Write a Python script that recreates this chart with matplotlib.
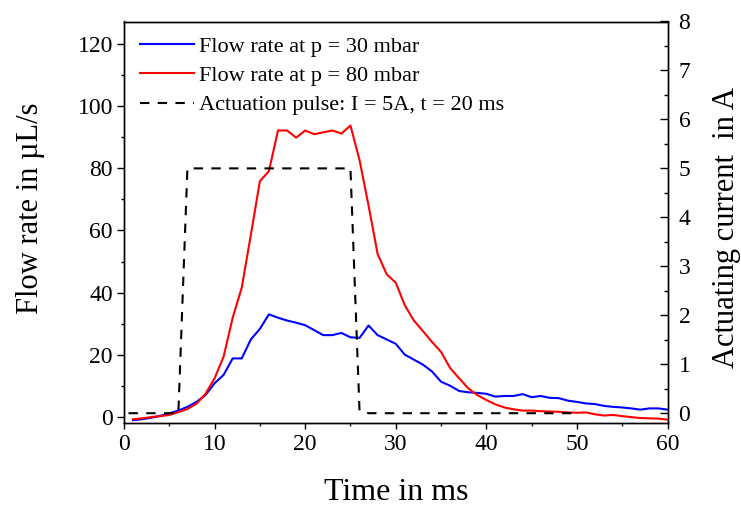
import numpy as np
import matplotlib
matplotlib.use("Agg")
import matplotlib.pyplot as plt
from matplotlib.ticker import MultipleLocator

# --- data ---
time_ms = np.arange(1, 61)

flow_30mbar = [-1.1, -0.8, -0.3, 0.3, 1.1, 2.0, 3.2, 4.8, 7.0, 10.8,
               13.5, 18.8, 18.8, 24.9, 28.3, 33.0, 31.9, 31.0, 30.3, 29.5,
               27.9, 26.3, 26.3, 27.0, 25.6, 25.4, 29.4, 26.3, 24.9, 23.5,
               20.0, 18.4, 16.8, 14.6, 11.3, 10.0, 8.3, 7.9, 7.7, 7.4,
               6.5, 6.7, 6.7, 7.3, 6.3, 6.7, 6.1, 6.0, 5.2, 4.8,
               4.3, 4.1, 3.5, 3.2, 3.0, 2.7, 2.3, 2.7, 2.7, 2.3]

flow_80mbar = [-0.8, -0.5, -0.1, 0.2, 0.6, 1.5, 2.5, 4.2, 7.4, 12.4,
               19.4, 31.9, 41.6, 58.5, 75.9, 79.1, 92.2, 92.2, 89.9, 92.2,
               91.0, 91.6, 92.2, 91.2, 93.8, 82.7, 68.0, 52.4, 45.9, 43.2,
               35.9, 31.0, 27.6, 24.1, 20.9, 15.7, 12.4, 9.2, 7.0, 5.4,
               4.0, 3.0, 2.4, 2.0, 2.0, 1.8, 1.7, 1.6, 1.4, 1.3,
               1.4, 0.8, 0.4, 0.6, 0.2, -0.1, -0.4, -0.5, -0.6, -0.9]

pulse_t = [0.5, 6.0, 7.0, 25.0, 26.0, 27.0, 50.0]
pulse_i = [0.0, 0.0, 5.0, 5.0, 0.05, 0.0, 0.0]

labels = ["Flow rate at p = 30 mbar",
          "Flow rate at p = 80 mbar",
          "Actuation pulse: I = 5A, t = 20 ms"]

# --- style ---
plt.rcParams['font.family'] = ['Liberation Serif', 'DejaVu Serif']
plt.rcParams['axes.linewidth'] = 1.0

fig = plt.figure(figsize=(7.41, 5.09), dpi=100)
ax = fig.add_axes([124 / 741, 86 / 509, 543.5 / 741, 401.5 / 509])
ax2 = ax.twinx()

l1, = ax.plot(time_ms, flow_30mbar, color='#0000ff', lw=1.5, zorder=3)
l2, = ax.plot(time_ms, flow_80mbar, color='#ff0000', lw=1.5, zorder=3)
l3, = ax2.plot(pulse_t, pulse_i, color='black', lw=1.5, dashes=(4.5, 4))

ax.set_xlim(0, 60)
ax.set_ylim(-2, 127.3)
ax2.set_ylim(-0.2, 8)

ax.xaxis.set_major_locator(MultipleLocator(10))
ax.xaxis.set_minor_locator(MultipleLocator(5))
ax.yaxis.set_major_locator(MultipleLocator(20))
ax.yaxis.set_minor_locator(MultipleLocator(10))
ax2.yaxis.set_major_locator(MultipleLocator(1))
ax2.yaxis.set_minor_locator(MultipleLocator(0.5))

# tick directions: left/bottom out, right in
ax.tick_params(axis='x', which='major', direction='out', length=4, width=1, labelsize=17, pad=4)
ax.tick_params(axis='x', which='minor', direction='out', length=2.5, width=1)
ax.tick_params(axis='y', which='major', direction='out', length=5, width=1, labelsize=17, pad=3)
ax.tick_params(axis='y', which='minor', direction='out', length=2.5, width=1)
ax2.tick_params(axis='y', which='major', direction='in', length=6, width=1, labelsize=17, pad=8)
ax2.tick_params(axis='y', which='minor', direction='in', length=3, width=1)

ax.set_xlabel("Time in ms", fontsize=23, va='center')
ax.xaxis.set_label_coords(0.5, -0.174)
ax.set_ylabel("Flow rate in µL/s", fontsize=22, va='center')
ax.yaxis.set_label_coords(-0.172, 0.536)
ax2.set_ylabel("Actuating current  in A", fontsize=22, va='center', rotation=90)
ax2.yaxis.set_label_coords(1.108, 0.486)

ax2.legend([l1, l2, l3], labels, loc='upper left', bbox_to_anchor=(0.03, 0.963),
           frameon=False, fontsize=16, handlelength=2.4, handletextpad=0.25,
           labelspacing=0.39, borderpad=0, borderaxespad=0)

fig.savefig("out.png", dpi=100)
